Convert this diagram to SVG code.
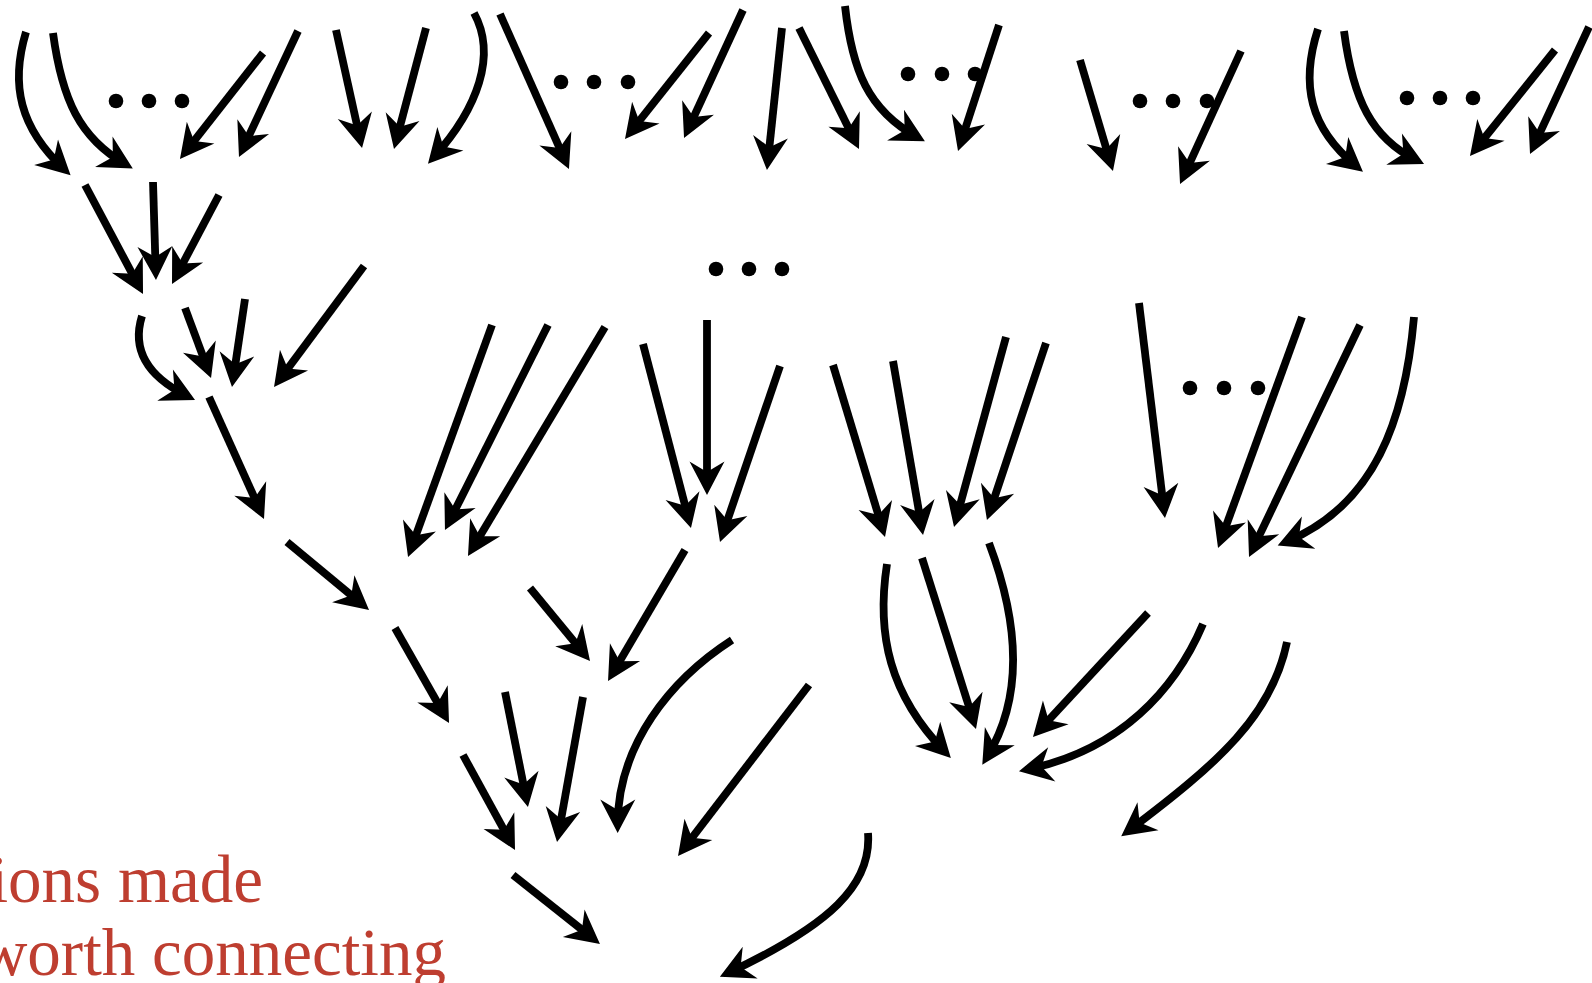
<svg xmlns="http://www.w3.org/2000/svg" width="1592" height="983" viewBox="0 0 1592 983">
  <style>
    .arrow { fill: none; stroke: #000; stroke-width: 7.8; stroke-linecap: butt; marker-end: url(#head); }
    .dot { fill: #000; }
    .caption { font-family: "Liberation Serif", "Times New Roman", serif; font-size: 67px; fill: #BE3E30; text-anchor: end; }
  </style>
  <defs>
    <!-- barbed arrowhead; the path end sits 9px behind the tip -->
    <marker id="head" markerUnits="userSpaceOnUse" markerWidth="40" markerHeight="40" viewBox="-30 -20 40 40" refX="0" refY="0" orient="auto" overflow="visible">
      <path d="M9,0 L-24.5,-17.5 L-14,0 L-24.5,17.5 Z" fill="#000"/>
    </marker>
  </defs>
  <rect width="1592" height="983" fill="#fff"/>

  <g id="connectors">
    <!-- top row -->
    <path class="arrow" d="M26,32 C10,85 20,128 64,169"/>
    <path class="arrow" d="M53,33 C62,100 80,138 125,164"/>
    <path class="arrow" d="M263,53 L185.5,151.9"/>
    <path class="arrow" d="M298,31 L242.8,148.8"/>
    <path class="arrow" d="M336,30 L360.1,139.2"/>
    <path class="arrow" d="M426,28 L396.3,140.3"/>
    <path class="arrow" d="M474,13 C497,55 478,108 434,157"/>
    <path class="arrow" d="M500,14 L565.3,160.8"/>
    <path class="arrow" d="M709,33 L630.6,131.9"/>
    <path class="arrow" d="M743,10 L687.8,129.8"/>
    <path class="arrow" d="M782,28 L767.9,161.1"/>
    <path class="arrow" d="M799,28 L855,140.9"/>
    <path class="arrow" d="M845,6 C852,70 868,110 917,137"/>
    <path class="arrow" d="M999,25 L960.8,142.4"/>
    <path class="arrow" d="M1080,60 L1110.4,162.4"/>
    <path class="arrow" d="M1241,51 L1183.8,175.8"/>
    <path class="arrow" d="M1318,29 C1300,85 1310,128 1356,166"/>
    <path class="arrow" d="M1344,31 C1353,100 1372,138 1416,160"/>
    <path class="arrow" d="M1555,50 L1475.6,149"/>
    <path class="arrow" d="M1589,27 L1533.8,145.8"/>

    <!-- second row, left cluster -->
    <path class="arrow" d="M85,185 L138.8,286.1"/>
    <path class="arrow" d="M153,182 L155.7,271"/>
    <path class="arrow" d="M219,195 L176.2,276"/>
    <path class="arrow" d="M364,266 L279.4,379.8"/>

    <!-- third row -->
    <path class="arrow" d="M142,316 C132,348 145,375 187,396"/>
    <path class="arrow" d="M185,308 L207.9,369.6"/>
    <path class="arrow" d="M245,299 L233.3,378.1"/>
    <path class="arrow" d="M209,397 L260.3,510.8"/>
    <path class="arrow" d="M287,542 L362.1,604.3"/>

    <path class="arrow" d="M492,325 L411.1,548.5"/>
    <path class="arrow" d="M548,325 L449,522"/>
    <path class="arrow" d="M605,327 L472.6,548.3"/>
    <path class="arrow" d="M643,344 L688.7,519.3"/>
    <path class="arrow" d="M707,320 L707,486"/>
    <path class="arrow" d="M780,366 L722.9,533.5"/>

    <path class="arrow" d="M833,365 L882.4,528.4"/>
    <path class="arrow" d="M893,361 L921.5,526.1"/>
    <path class="arrow" d="M1006,337 L956.4,518.3"/>
    <path class="arrow" d="M1046,343 L989.8,511.5"/>
    <path class="arrow" d="M1139,303 L1163.9,509.1"/>

    <path class="arrow" d="M1302,317 L1221.1,539.5"/>
    <path class="arrow" d="M1360,325 L1252.9,548.9"/>
    <path class="arrow" d="M1414,317 C1405,420 1375,505 1286,542"/>

    <!-- lower centre -->
    <path class="arrow" d="M530,588 L584.3,654"/>
    <path class="arrow" d="M685,550 L612.6,673.2"/>
    <path class="arrow" d="M395,628 L444.6,715.2"/>
    <path class="arrow" d="M732,640 C670,680 618,745 617.7,824"/>
    <path class="arrow" d="M809,685 L683.5,848.9"/>
    <path class="arrow" d="M463,755 L510.7,842.1"/>
    <path class="arrow" d="M505,692 L526.2,798.2"/>
    <path class="arrow" d="M583,697 L558.6,833.1"/>
    <path class="arrow" d="M513,875 L592.9,938.4"/>
    <path class="arrow" d="M868,833 C872,885 830,925 728,973"/>

    <!-- lower right -->
    <path class="arrow" d="M887,564 C876,635 890,695 944.6,751.6"/>
    <path class="arrow" d="M922,558 L973.3,720.4"/>
    <path class="arrow" d="M989,543 C1018,620 1025,695 987,757"/>
    <path class="arrow" d="M1148,613 L1039.1,730.4"/>
    <path class="arrow" d="M1203,624 C1175,690 1120,750 1027.8,769.3"/>
    <path class="arrow" d="M1287,642 C1272,715 1220,762 1128.4,830.9"/>
  </g>

  <g id="ellipsis-1"><circle class="dot" cx="116" cy="101" r="7.3"/><circle class="dot" cx="149" cy="101" r="7.3"/><circle class="dot" cx="182" cy="101" r="7.3"/></g>
  <g id="ellipsis-2"><circle class="dot" cx="561" cy="82" r="7.3"/><circle class="dot" cx="594" cy="82" r="7.3"/><circle class="dot" cx="628" cy="82" r="7.3"/></g>
  <g id="ellipsis-3"><circle class="dot" cx="908" cy="74" r="7.3"/><circle class="dot" cx="942" cy="74" r="7.3"/><circle class="dot" cx="975" cy="74" r="7.3"/></g>
  <g id="ellipsis-4"><circle class="dot" cx="1140" cy="101" r="7.3"/><circle class="dot" cx="1173" cy="101" r="7.3"/><circle class="dot" cx="1207" cy="101" r="7.3"/></g>
  <g id="ellipsis-5"><circle class="dot" cx="1407" cy="98" r="7.3"/><circle class="dot" cx="1440" cy="98" r="7.3"/><circle class="dot" cx="1473" cy="98" r="7.3"/></g>
  <g id="ellipsis-6"><circle class="dot" cx="716" cy="269" r="7.3"/><circle class="dot" cx="749" cy="269" r="7.3"/><circle class="dot" cx="782" cy="269" r="7.3"/></g>
  <g id="ellipsis-7"><circle class="dot" cx="1190" cy="388" r="7.3"/><circle class="dot" cx="1224" cy="388" r="7.3"/><circle class="dot" cx="1258" cy="388" r="7.3"/></g>

  <g id="caption">
    <text class="caption" x="263" y="902">ions made</text>
    <text class="caption" x="446" y="975">worth connecting</text>
  </g>
</svg>
